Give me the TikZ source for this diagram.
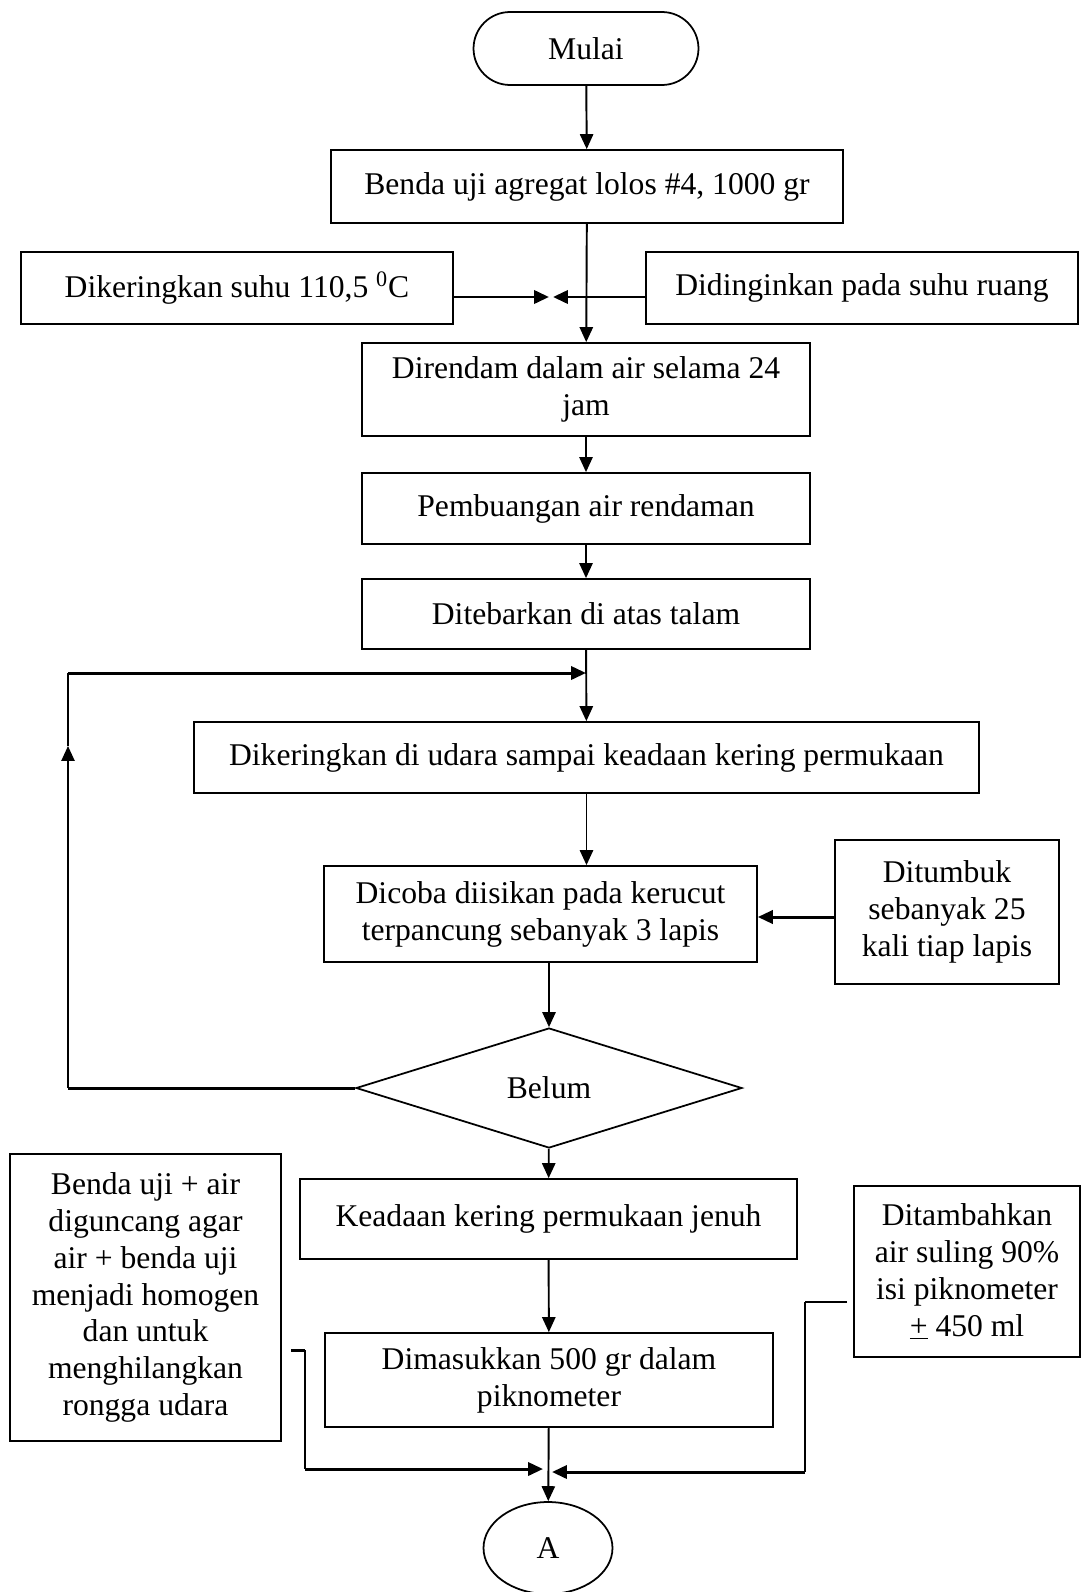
\documentclass[tikz,border=0pt]{standalone}
\usepackage{fontspec}
\setmainfont{Liberation Serif}
\usetikzlibrary{arrows.meta,shapes.geometric,shapes.misc}
\begin{document}
\begin{tikzpicture}[x=0.02cm,y=-0.02cm,
  font=\fontsize{18}{21}\selectfont,
  box/.style={draw,line width=1pt,rectangle,inner sep=0pt,align=center},
  link/.style={line width=1.1pt},
  flow/.style={line width=1.1pt,-{Triangle[length=8.5pt,width=7.5pt]}},
  heavy/.style={line width=1.7pt},
  heavyflow/.style={line width=1.7pt,-{Triangle[length=8.5pt,width=7.5pt]}}]
\useasboundingbox (0,0) rectangle (1081,1592);

% process steps
\node[box,rounded rectangle,minimum width=4.5cm,minimum height=1.46cm] (start) at (586,48.5) {Mulai};
\node[box,minimum width=10.24cm,minimum height=1.46cm] (sample) at (587,186.5) {Benda uji agregat lolos \#4, 1000 gr};
\node[box,minimum width=8.64cm,minimum height=1.44cm] (oven) at (237,288) {Dikeringkan suhu 110,5 \textsuperscript{0}C};
\node[box,minimum width=8.64cm,minimum height=1.44cm] (cool) at (862,288) {Didinginkan pada suhu ruang};
\node[box,minimum width=8.96cm,minimum height=1.86cm] (soak) at (586,389.5) {Direndam dalam air selama 24\\jam};
\node[box,minimum width=8.96cm,minimum height=1.42cm] (drain) at (586,508.5) {Pembuangan air rendaman};
\node[box,minimum width=8.96cm,minimum height=1.4cm] (spread) at (586,614) {Ditebarkan di atas talam};
\node[box,minimum width=15.7cm,minimum height=1.42cm] (airdry) at (586.5,757.5) {Dikeringkan di udara sampai keadaan kering permukaan};
\node[box,minimum width=8.66cm,minimum height=1.92cm] (cone) at (540.5,914) {Dicoba diisikan pada kerucut\\terpancung sebanyak 3 lapis};
\node[box,minimum width=4.48cm,minimum height=2.88cm] (tamp) at (947,912) {Ditumbuk\\sebanyak 25\\kali tiap lapis};
\node[draw,line width=1pt,diamond,inner sep=0pt,minimum width=7.72cm,minimum height=2.4cm] (check) at (549,1088) {Belum};
\node[box,minimum width=9.94cm,minimum height=1.6cm] (ssd) at (548.5,1219) {Keadaan kering permukaan jenuh};
\node[box,minimum width=8.96cm,minimum height=1.88cm] (pycno) at (549,1380) {Dimasukkan 500 gr dalam\\piknometer};
\node[box,minimum width=5.42cm,minimum height=5.74cm] (shake) at (145.5,1297.5) {Benda uji + air\\diguncang agar\\air + benda uji\\menjadi homogen\\dan untuk\\menghilangkan\\rongga udara};
\node[box,minimum width=4.52cm,minimum height=3.42cm] (water) at (967,1271.5) {Ditambahkan\\air suling 90\%\\isi piknometer\\\underline{+} 450 ml};
\node[draw,line width=1pt,ellipse,inner sep=0pt,minimum width=2.58cm,minimum height=1.84cm] (A) at (548,1548) {A};

% junction points
\coordinate (meetL) at (549,297);
\coordinate (meetR) at (553,297);
\coordinate (tampOut) at (835,917);
\coordinate (loopIn) at (586,673);
\coordinate (loopTL) at (68,673);
\coordinate (loopMid) at (68,746);
\coordinate (loopBL) at (68,1088);
\coordinate (shakeOut) at (291,1350);
\coordinate (shakeBend) at (305,1350);
\coordinate (shakeLow) at (305,1469);
\coordinate (shakeIn) at (543,1469);
\coordinate (waterOut) at (847,1302);
\coordinate (waterBend) at (805,1302);
\coordinate (waterLow) at (805,1472);
\coordinate (waterIn) at (552,1472);

% main flow
\draw[flow] (start) -- (sample);
\draw[flow] (sample) -- (soak);
\draw[heavyflow] (oven.east |- meetL) -- (meetL);
\draw[heavyflow] (cool.west |- meetR) -- (meetR);
\draw[flow] (soak) -- (drain);
\draw[flow] (drain) -- (spread);
\draw[flow] (spread) -- (airdry);
\draw[flow] (airdry.south) -- (airdry.south |- cone.north);
\draw[heavyflow] (tampOut) -- (cone.east |- tampOut);
\draw[flow] (check.north |- cone.south) -- (check.north);
\draw[flow] (check) -- (ssd);
\draw[flow] (ssd) -- (pycno);
\draw[flow] (pycno) -- (A);

% return loop
\draw[heavy] (check.west) -- (loopBL);
\draw[flow] (loopBL) -- (loopMid);
\draw[link] (loopMid) -- (loopTL);
\draw[heavyflow] (loopTL) -- (loopIn);

% side inputs at the bottom
\draw[heavy] (shakeOut) -- (shakeBend);
\draw[link] (shakeBend) -- (shakeLow);
\draw[heavyflow] (shakeLow) -- (shakeIn);
\draw[link] (waterOut) -- (waterBend);
\draw[link] (waterBend) -- (waterLow);
\draw[heavyflow] (waterLow) -- (waterIn);
\end{tikzpicture}
\end{document}
